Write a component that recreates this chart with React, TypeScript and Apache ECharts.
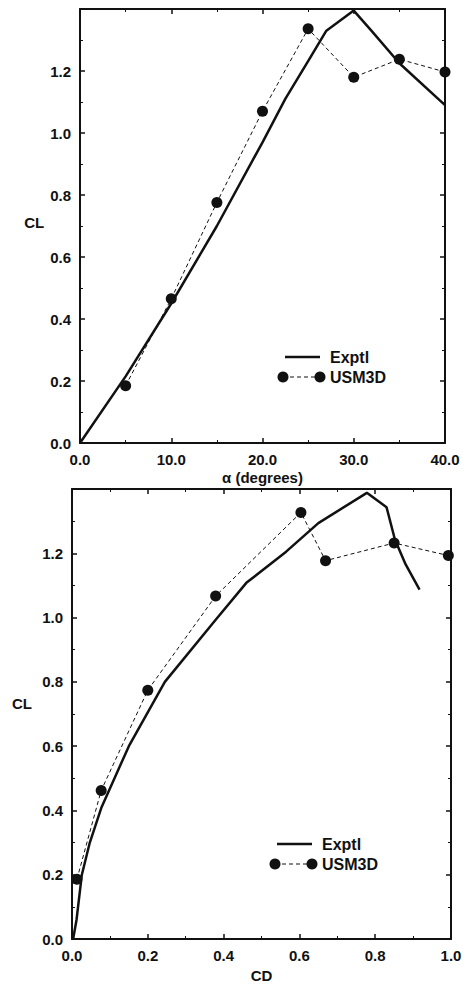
import React, { useEffect, useRef } from "react";
import * as echarts from "echarts";

// Top panel: CL vs alpha
const alphaExpt = [0, 5, 10, 15, 20, 22.5, 25, 27, 30, 32, 35, 40];
const clExptAlpha = [0, 0.215, 0.45, 0.7, 0.97, 1.11, 1.232, 1.33, 1.395, 1.328, 1.225, 1.09];
const alphaUsm = [5, 10, 15, 20, 25, 30, 35, 40];
const clUsmAlpha = [0.185, 0.465, 0.776, 1.07, 1.336, 1.18, 1.238, 1.197];

// Bottom panel: CL vs CD
const cdExpt = [0.003, 0.012, 0.026, 0.047, 0.078, 0.15, 0.245, 0.377, 0.46, 0.565, 0.65, 0.778, 0.83, 0.852, 0.88, 0.917];
const clExptCd = [0, 0.06, 0.2, 0.3, 0.41, 0.6, 0.8, 0.99, 1.108, 1.205, 1.294, 1.388, 1.343, 1.243, 1.166, 1.087];
const cdUsm = [0.013, 0.077, 0.2, 0.379, 0.604, 0.669, 0.85, 0.993];
const clUsmCd = [0.186, 0.462, 0.774, 1.067, 1.327, 1.177, 1.232, 1.193];

const legendNames = ["Exptl", "USM3D"];

const FONT = "Liberation Sans";
const INK = "#111";

const zip = (xs: number[], ys: number[]) => xs.map((x, i) => [x, ys[i]]);

export default function App() {
  const ref = useRef<HTMLDivElement>(null);
  useEffect(() => {
    if (!ref.current) return;
    const chart = echarts.init(ref.current, null, { renderer: "svg" });

    const labelStyle = { color: INK, fontFamily: FONT, fontWeight: "bold" as const, fontSize: 15 };
    const axisLine = { show: true, onZero: false, lineStyle: { color: INK, width: 2 } };
    const tick = { show: true, inside: true, length: 5, lineStyle: { color: INK, width: 1.5 } };
    const minor = { show: true, splitNumber: 2, length: 3, lineStyle: { color: INK, width: 1 } };
    const yFmt = (v: number) => (v > 1.39 ? "" : v.toFixed(1));

    const mainX = (grid: number, max: number, interval: number, name: string, gap: number) => ({
      type: "value", gridIndex: grid, min: 0, max, interval, position: "bottom",
      name, nameLocation: "middle", nameGap: gap,
      nameTextStyle: { ...labelStyle },
      axisLine, axisTick: tick, minorTick: minor, splitLine: { show: false },
      axisLabel: { ...labelStyle, margin: 9, formatter: (v: number) => v.toFixed(1) },
    });
    const mirrorX = (grid: number, max: number, interval: number) => ({
      type: "value", gridIndex: grid, min: 0, max, interval, position: "top",
      axisLine, axisTick: tick, minorTick: minor, splitLine: { show: false }, axisLabel: { show: false },
    });
    const mainY = (grid: number, gap: number, shift: number) => ({
      type: "value", gridIndex: grid, min: 0, max: 1.4, interval: 0.2, position: "left",
      name: "CL", nameLocation: "middle", nameGap: gap, nameRotate: 0,
      nameTextStyle: { ...labelStyle, align: "center", verticalAlign: "bottom", lineHeight: shift * 2 },
      axisLine, axisTick: tick, minorTick: minor, splitLine: { show: false },
      axisLabel: { ...labelStyle, margin: 9, formatter: yFmt },
    });
    const mirrorY = (grid: number) => ({
      type: "value", gridIndex: grid, min: 0, max: 1.4, interval: 0.2, position: "right",
      axisLine, axisTick: tick, minorTick: minor, splitLine: { show: false }, axisLabel: { show: false },
    });

    const exptSeries = (xi: number, yi: number, data: number[][]) => ({
      name: legendNames[0], type: "line", xAxisIndex: xi, yAxisIndex: yi, data,
      symbol: "none", lineStyle: { color: INK, width: 2.5 }, z: 3,
    });
    const usmSeries = (xi: number, yi: number, data: number[][]) => ({
      name: legendNames[1], type: "line", xAxisIndex: xi, yAxisIndex: yi, data,
      symbol: "circle", symbolSize: 11, showSymbol: true,
      itemStyle: { color: INK, borderWidth: 0 },
      lineStyle: { color: INK, width: 1, type: [4, 3] }, z: 4,
    });

    const legendGroup = (x0: number, y0: number) => ({
      type: "group", x: x0, y: y0,
      children: [
        { type: "line", shape: { x1: 2, y1: 0, x2: 37, y2: 0 }, style: { stroke: INK, lineWidth: 2.5 } },
        { type: "text", x: 47, y: 0, style: { text: legendNames[0], fill: INK, font: `bold 16px "${FONT}"`, verticalAlign: "middle" } },
        { type: "line", shape: { x1: 0, y1: 20, x2: 37, y2: 20 }, style: { stroke: INK, lineWidth: 1, lineDash: [4, 3] } },
        { type: "circle", shape: { cx: 0, cy: 20, r: 5.5 }, style: { fill: INK } },
        { type: "circle", shape: { cx: 37, cy: 20, r: 5.5 }, style: { fill: INK } },
        { type: "text", x: 47, y: 20, style: { text: legendNames[1], fill: INK, font: `bold 16px "${FONT}"`, verticalAlign: "middle" } },
      ],
    });

    chart.setOption({
      animation: false,
      backgroundColor: "#fff",
      grid: [
        { left: 80, top: 9, width: 365, height: 434 },
        { left: 72, top: 489, width: 379, height: 450 },
      ],
      xAxis: [
        mainX(0, 40, 10, "α (degrees)", 27),
        mirrorX(0, 40, 10),
        mainX(1, 1, 0.2, "CD", 29),
        mirrorX(1, 1, 0.2),
      ],
      yAxis: [mainY(0, 42, 4), mirrorY(0), mainY(1, 50, 11), mirrorY(1)],
      series: [
        exptSeries(0, 0, zip(alphaExpt, clExptAlpha)),
        usmSeries(0, 0, zip(alphaUsm, clUsmAlpha)),
        exptSeries(2, 2, zip(cdExpt, clExptCd)),
        usmSeries(2, 2, zip(cdUsm, clUsmCd)),
      ],
      graphic: [legendGroup(283, 357), legendGroup(275, 844)],
    });
    return () => chart.dispose();
  }, []);
  return (
    <div
      ref={ref}
      style={{ position: "absolute", left: 0, top: 0, width: 467, height: 984, background: "#fff" }}
    />
  );
}
